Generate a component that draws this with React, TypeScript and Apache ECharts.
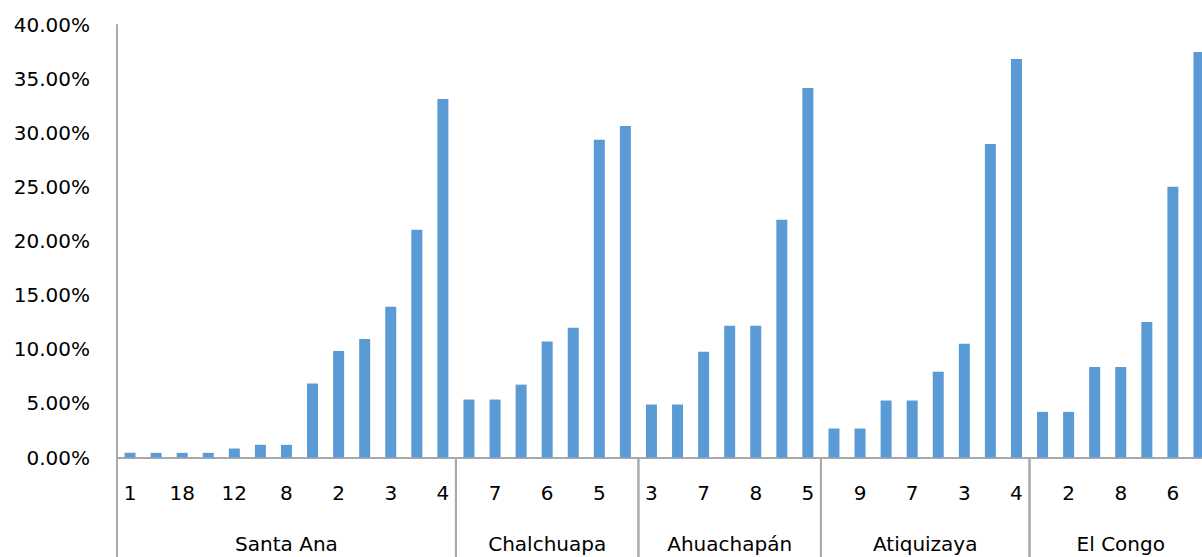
import React, { useEffect, useRef } from "react";
import * as echarts from "echarts";

const categories: string[] = [
  "1", "1", "18", "18", "12", "12", "8", "8", "2", "2", "3", "3", "4",
  "7", "7", "6", "6", "5", "5", "5",
  "3", "3", "7", "7", "8", "8", "5",
  "9", "9", "7", "7", "3", "3", "4", "4",
  "2", "2", "8", "8", "6", "6", "6",
];

const values: number[] = [
  0.0043, 0.0043, 0.0043, 0.0043, 0.0083, 0.0117, 0.0117, 0.0684, 0.0986, 0.1096, 0.1395, 0.2106, 0.3316,
  0.0536, 0.0536, 0.0674, 0.1072, 0.12, 0.2938, 0.3067,
  0.049, 0.049, 0.0979, 0.1219, 0.1219, 0.2199, 0.3418,
  0.0268, 0.0268, 0.0527, 0.0527, 0.0794, 0.1053, 0.29, 0.3686,
  0.0422, 0.0422, 0.0838, 0.0838, 0.1253, 0.2503, 0.375,
];

const groupNames: string[] = ["Santa Ana", "Chalchuapa", "Ahuachapán", "Atiquizaya", "El Congo"];
const groupStarts: number[] = [0, 13, 20, 27, 35];
const groupEnds: number[] = [12, 19, 26, 34, 41];

const yTicks = { min: 0, max: 0.4, interval: 0.05 };

const FONT = "DejaVu Sans";
const LINE = "#A9A9A9";

export default function App() {
  const ref = useRef<HTMLDivElement>(null);
  useEffect(() => {
    if (!ref.current) return;
    const chart = echarts.init(ref.current, undefined, { renderer: "svg" });
    const groupData = groupNames.map((n, i) => [groupStarts[i], groupEnds[i], 0, i]);
    chart.setOption({
      animation: false,
      grid: { left: 117, right: 0, top: 25, bottom: 99.5 },
      xAxis: {
        type: "category",
        data: categories,
        axisLine: { show: true, lineStyle: { color: LINE, width: 2 } },
        axisTick: { show: false },
        axisLabel: {
          interval: 1,
          margin: 25,
          fontFamily: FONT,
          fontSize: 20,
          color: "#000",
        },
        splitLine: { show: false },
      },
      yAxis: {
        type: "value",
        min: yTicks.min,
        max: yTicks.max,
        interval: yTicks.interval,
        axisLine: { show: true, lineStyle: { color: LINE, width: 2 } },
        axisTick: { show: false },
        splitLine: { show: false },
        axisLabel: {
          margin: 27,
          fontFamily: FONT,
          fontSize: 20,
          color: "#000",
          formatter: (v: number) => (v * 100).toFixed(2) + "%",
        },
      },
      series: [
        {
          type: "bar",
          data: values,
          barWidth: 11,
          itemStyle: { color: "#5B9BD5" },
        },
        {
          type: "custom",
          clip: false,
          silent: true,
          data: groupData,
          encode: { x: [0, 1], y: 2 },
          z: 5,
          renderItem: (params: any, api: any) => {
            const s = api.value(0);
            const e = api.value(1);
            const idx = api.value(3);
            const band = api.size([1, 0])[0];
            const p0 = api.coord([s, 0]);
            const p1 = api.coord([e, 0]);
            const x0 = p0[0] - band / 2;
            const x1 = p1[0] + band / 2;
            const y = p0[1];
            return {
              type: "group",
              children: [
                {
                  type: "line",
                  shape: { x1: x0, y1: y, x2: x0, y2: y + 110 },
                  style: { stroke: LINE, lineWidth: 2 },
                },
                {
                  type: "line",
                  shape: { x1: x1, y1: y, x2: x1, y2: y + 110 },
                  style: { stroke: LINE, lineWidth: 2 },
                },
                {
                  type: "text",
                  x: (x0 + x1) / 2,
                  y: y + 86,
                  style: {
                    text: groupNames[idx],
                    fontFamily: FONT,
                    fontSize: 20,
                    fill: "#000",
                    align: "center",
                    verticalAlign: "middle",
                  },
                },
              ],
            };
          },
        },
      ],
    });
    return () => chart.dispose();
  }, []);
  return (
    <div
      style={{ position: "absolute", left: 0, top: 0, width: 1202, height: 557, overflow: "hidden", background: "#fff" }}
    >
      <div ref={ref} style={{ width: 1212, height: 557 }} />
    </div>
  );
}
